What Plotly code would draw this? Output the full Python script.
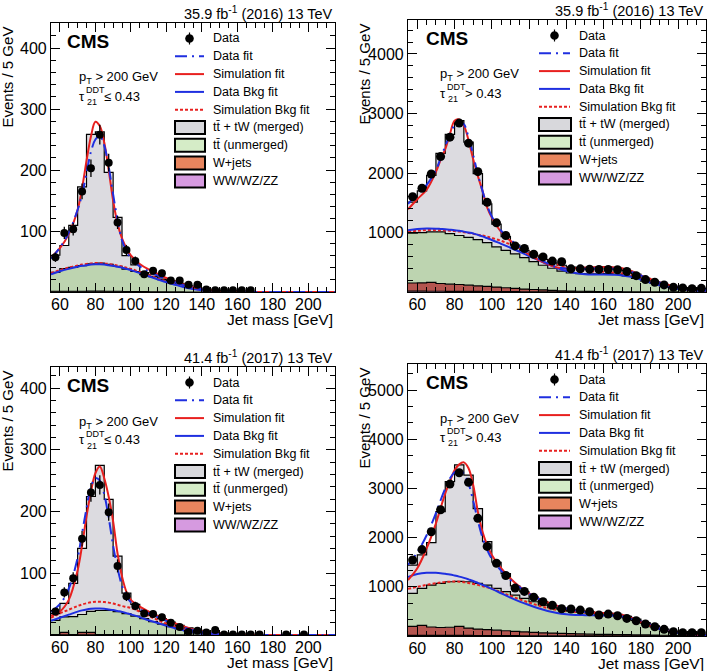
import plotly.graph_objects as go

W, H = 709, 671
FONT = "Liberation Sans, Arial, Helvetica, sans-serif"

# ---------------- shared binning ----------------
bin_edges = [55, 60, 65, 70, 75, 80, 85, 90, 95, 100, 105, 110, 115, 120, 125, 130,
             135, 140, 145, 150, 155, 160, 165, 170, 175, 180, 185, 190, 195, 200, 205, 210, 215]
bin_centers = [57.5, 62.5, 67.5, 72.5, 77.5, 82.5, 87.5, 92.5, 97.5, 102.5, 107.5, 112.5,
               117.5, 122.5, 127.5, 132.5, 137.5, 142.5, 147.5, 152.5, 157.5, 162.5, 167.5,
               172.5, 177.5, 182.5, 187.5, 192.5, 197.5, 202.5, 207.5, 212.5]
fit_x = [55, 60, 65, 70, 72.5, 75, 77.5, 80, 82.5, 85, 87.5, 90, 92.5, 95, 97.5, 100, 105, 110,
         115, 120, 125, 130, 135, 140, 145, 150, 155, 160, 165, 170, 175, 180, 185, 190, 195,
         200, 205, 210, 215]

# ---------------- panel 1: 2016, tau21 <= 0.43 ----------------
p1_data = [57, 97, 103, 165, 203, 258, 212, 114, 69, 51, 29, 35, 31, 19, 19, 12, 12,
           4, 3, 3, 3, 3, 3, None, None, None, None, None, None, None, None, None]
p1_vv = [0.3, 0.3, 0.3, 0.3, 0.4, 0.4, 0.3, 0.3, 0.2, 0.2, 0.2, 0.1, 0.1, 0.1, 0, 0,
         0, 0, 0, 0, 0, 0, 0, 0, 0, 0, 0, 0, 0, 0, 0, 0]
p1_wjets = [1, 1, 1, 1, 1, 1, 1, 1, 0.5, 0.5, 0.5, 0.3, 0.3, 0.2, 0.2, 0.1,
            0.1, 0, 0, 0, 0, 0, 0, 0, 0, 0, 0, 0, 0, 0, 0, 0]
p1_unmerged = [31, 37, 39, 42, 45, 46, 44, 41, 37, 33, 28, 25, 20, 16, 12, 8,
               5, 3, 1.5, 0.8, 0.5, 0.3, 0.2, 0.1, 0, 0, 0, 0, 0, 0, 0, 0]
p1_merged = [28, 38, 69, 129, 212, 215, 151, 80, 22, 11, 3, 3, 3, 2, 2, 2,
             2, 2, 1.5, 1.2, 1, 0.7, 0.5, 0.4, 0.3, 0.2, 0.1, 0.1, 0, 0, 0, 0]
p1_data_fit = [55, 73, 97, 135, 160, 195, 230, 250, 256, 240, 205, 160, 118, 85, 67, 55, 42, 34,
               27, 21, 16, 11, 7.5, 4.5, 2.5, 1.2, 0.6, 0.3, 0.1, 0, 0, 0, 0, 0, 0, 0, 0, 0, 0]
p1_sim_fit = [57, 72, 95, 135, 170, 215, 255, 279, 272, 245, 200, 150, 112, 88, 72, 60, 46, 37,
              30, 23, 17, 12, 8, 5, 3, 1.5, 0.8, 0.4, 0.2, 0.1, 0, 0, 0, 0, 0, 0, 0, 0, 0]
p1_data_bkg = [29, 34, 38, 41.5, 43, 44, 45, 45.5, 45.5, 45, 44, 43, 41.5, 40, 38, 36, 31, 26,
               21, 16, 12, 8, 5, 3, 1.5, 0.7, 0.3, 0.1, 0, 0, 0, 0, 0, 0, 0, 0, 0, 0, 0]
p1_sim_bkg = [31, 36, 40, 43.5, 45, 46, 47, 47.5, 47.5, 47, 46, 45, 43.5, 42, 40, 38, 33, 28,
              22.5, 17.5, 13, 9, 6, 3.5, 2, 1, 0.4, 0.1, 0, 0, 0, 0, 0, 0, 0, 0, 0, 0, 0]

# ---------------- panel 2: 2016, tau21 > 0.43 ----------------
p2_data = [1601, 1743, 1984, 2276, 2602, 2838, 2501, 2023, 1507, 1163, 950, 775, 731, 635, 590, 520,
           510, 390, 390, 385, 380, 380, 375, 345, 275, 210, 165, 120, 80, 70, 57, 62]
p2_vv = [15, 15, 14, 14, 13, 12, 11, 10, 9, 8, 7, 6, 5, 5, 4, 4,
         3, 3, 3, 2, 2, 2, 2, 1, 1, 1, 1, 1, 1, 0, 0, 0]
p2_wjets = [137, 140, 150, 130, 120, 115, 105, 95, 85, 75, 65, 55, 45, 38, 32, 25,
            18, 14, 11, 9, 7, 5, 4, 3, 2, 2, 1, 1, 1, 1, 1, 1]
p2_unmerged = [838, 845, 846, 866, 847, 823, 804, 775, 736, 677, 628, 579, 530, 467, 414, 371,
               329, 303, 296, 294, 296, 303, 294, 266, 227, 182, 143, 103, 68, 44, 29, 21]
p2_merged = [520, 700, 950, 1320, 1670, 1930, 1600, 1110, 650, 380, 230, 150, 120, 100, 100, 90,
             100, 100, 105, 105, 105, 95, 95, 90, 70, 45, 25, 20, 15, 15, 15, 13]
p2_data_fit = [1480, 1650, 1800, 2050, 2250, 2450, 2650, 2800, 2860, 2820, 2600, 2300, 1980, 1700,
               1450, 1270, 1030, 880, 760, 650, 560, 480, 420, 390, 385, 390, 395, 395, 390, 375,
               340, 280, 215, 160, 115, 85, 65, 55, 50]
p2_sim_fit = [1390, 1560, 1720, 2020, 2220, 2400, 2650, 2880, 2900, 2800, 2550, 2230, 1950, 1700,
              1420, 1250, 1010, 860, 740, 630, 540, 470, 415, 395, 400, 410, 418, 420, 415, 400,
              355, 280, 220, 165, 120, 85, 65, 55, 50]
p2_data_bkg = [1040, 1060, 1068, 1065, 1060, 1055, 1048, 1040, 1028, 1015, 1000, 985, 960, 935,
               905, 875, 810, 745, 675, 605, 535, 465, 405, 355, 320, 300, 295, 295, 290, 280,
               255, 210, 160, 115, 80, 55, 38, 28, 20]
p2_sim_bkg = [1010, 1030, 1040, 1040, 1038, 1035, 1030, 1025, 1015, 1005, 993, 980, 965, 950,
              930, 910, 860, 800, 740, 680, 610, 540, 470, 410, 375, 355, 345, 340, 330, 315,
              280, 225, 170, 120, 80, 55, 38, 28, 20]

# ---------------- panel 3: 2017, tau21 <= 0.43 ----------------
p3_data = [38, 69, 92, 156, 231, 243, 199, 112, 63, 47, 35, 34, 29, 20, 13, 5,
           7, 4, 8, 1, 1, 1, 1, 1, None, None, 1, None, 1, None, None, None]
p3_vv = [0.3, 0.3, 0.3, 0.3, 0.3, 0.3, 0.3, 0.3, 0.3, 0.3, 0.2, 0.2, 0.1, 0.1, 0.1, 0,
         0, 0, 0, 0, 0, 0, 0, 0, 0, 0, 0, 0, 0, 0, 0, 0]
p3_wjets = [0.5, 4, 0.5, 4, 4, 0.5, 0.5, 0.5, 0.5, 0.3, 0.3, 0.2, 0.2, 0.1, 0.1, 0,
            0, 0, 0, 0, 0, 0, 0, 0, 0, 0, 0, 0, 0, 0, 0, 0]
p3_unmerged = [23, 25, 29, 29, 34, 39, 39, 37, 34, 30, 26, 21.5, 17.5, 13.6, 9.6, 6.7,
               3.7, 2.3, 1.3, 0.8, 0.4, 0.2, 0.1, 0.1, 0, 0, 0, 0, 0, 0, 0, 0]
p3_merged = [11, 22, 54, 107, 186, 235, 180, 90, 33, 19, 12, 10, 9, 7, 6, 5,
             4.3, 3.7, 2.7, 2.2, 1.6, 1.3, 0.9, 0.7, 0.5, 0.4, 0.3, 0.2, 0.1, 0.1, 0, 0]
p3_data_fit = [38, 50, 75, 125, 165, 205, 240, 254, 250, 228, 190, 145, 108, 80, 63, 53, 42, 35,
               29, 23, 17, 12, 8, 5, 3, 1.5, 0.7, 0.3, 0.1, 0, 0, 0, 0, 0, 0, 0, 0, 0, 0]
p3_sim_fit = [31, 38, 57, 105, 145, 192, 232, 262, 273, 254, 224, 184, 132, 95, 70, 57, 46, 38,
              31, 25, 19, 14, 9, 6, 3.5, 2, 1, 0.5, 0.2, 0.1, 0, 0, 0, 0, 0, 0, 0, 0, 0]
p3_data_bkg = [23, 28, 33, 38, 40, 41.5, 42.5, 43, 43, 42.5, 41.5, 40.5, 39, 37.5, 35.5, 33.5,
               29, 24, 19.5, 15, 11, 7.5, 4.5, 2.5, 1.2, 0.5, 0.2, 0, 0, 0, 0, 0, 0, 0, 0, 0, 0, 0, 0]
p3_sim_bkg = [28, 35, 41, 47, 49.5, 51.5, 53, 54, 54, 53.5, 52.5, 51, 49, 47, 45.5, 44, 38, 31,
              24.5, 18.5, 13.5, 9, 5.5, 3, 1.5, 0.7, 0.3, 0.1, 0, 0, 0, 0, 0, 0, 0, 0, 0, 0, 0]

# ---------------- panel 4: 2017, tau21 > 0.43 ----------------
p4_data = [1545, 1758, 2120, 2568, 3089, 3320, 3124, 2392, 1822, 1480, 1230, 975, 908, 790, 698, 625,
           555, 549, 528, 494, 427, 447, 413, 359, 311, 244, 190, 136, 88, 68, 68, 68]
p4_vv = [15, 15, 14, 14, 14, 13, 12, 11, 10, 9, 8, 7, 6, 6, 5, 5,
         4, 4, 4, 3, 3, 3, 3, 2, 2, 2, 2, 1, 1, 1, 1, 1]
p4_wjets = [180, 200, 170, 160, 165, 185, 150, 130, 120, 110, 100, 90, 80, 70, 60, 55,
            50, 45, 40, 35, 32, 30, 28, 25, 22, 20, 18, 15, 12, 10, 8, 6]
p4_unmerged = [672, 753, 852, 896, 925, 912, 942, 929, 906, 849, 793, 736, 679, 621, 565, 515,
               487, 456, 441, 432, 420, 412, 389, 348, 296, 233, 168, 109, 72, 44, 29, 23]
p4_merged = [573, 682, 864, 1460, 2036, 2370, 2166, 1520, 884, 532, 369, 187, 135, 93, 70, 45,
             19, 20, 20, 20, 20, 15, 20, 25, 25, 20, 17, 15, 10, 10, 7, 5]
p4_data_fit = [1450, 1700, 2050, 2500, 2760, 3000, 3200, 3330, 3370, 3300, 3100, 2750, 2350, 2000,
               1750, 1570, 1330, 1140, 990, 860, 760, 680, 610, 560, 520, 490, 465, 450, 430, 400,
               350, 280, 210, 145, 95, 60, 38, 25, 16]
p4_sim_fit = [1140, 1380, 1780, 2290, 2600, 2900, 3140, 3370, 3490, 3530, 3410, 3070, 2530, 2120,
              1850, 1650, 1380, 1170, 1000, 867, 766, 685, 617, 563, 530, 500, 480, 470, 455, 430,
              370, 280, 210, 150, 105, 70, 45, 30, 18]
p4_data_bkg = [1200, 1260, 1285, 1285, 1278, 1265, 1250, 1230, 1208, 1182, 1152, 1120, 1082, 1042,
               1000, 960, 870, 780, 700, 630, 565, 510, 470, 445, 430, 425, 422, 420, 412, 395,
               360, 295, 230, 165, 110, 70, 40, 22, 12]
p4_sim_bkg = [960, 1000, 1040, 1075, 1090, 1100, 1105, 1108, 1105, 1095, 1080, 1060, 1040, 1015,
              990, 960, 890, 815, 745, 680, 620, 570, 530, 505, 490, 480, 470, 465, 450, 420,
              370, 300, 225, 160, 105, 65, 38, 22, 12]

# ---------------- text ----------------
legend_labels = ["Data", "Data fit", "Simulation fit", "Data Bkg fit", "Simulation Bkg fit",
                 "tt\u0304 + tW (merged)", "tt\u0304 (unmerged)", "W+jets", "WW/WZ/ZZ"]
lumi_labels = ["35.9 fb<sup>-1</sup> (2016) 13 TeV", "35.9 fb<sup>-1</sup> (2016) 13 TeV",
               "41.4 fb<sup>-1</sup> (2017) 13 TeV", "41.4 fb<sup>-1</sup> (2017) 13 TeV"]
cut_labels = ["\u2264 0.43", "> 0.43", "\u2264 0.43", "> 0.43"]

# ---------------- styles ----------------
C_MERGED, C_UNMERGED, C_WJETS, C_VV = "#dcdbe0", "#bdd4b0", "#b4554f", "#d99be3"
L_MERGED, L_UNMERGED, L_WJETS, L_VV = "#d8d8dc", "#d5ecc7", "#e8855e", "#d69ae0"
BLUE, RED = "#1f2fe0", "#e8201f"

panels = [
    dict(data=p1_data, vv=p1_vv, wj=p1_wjets, um=p1_unmerged, mg=p1_merged,
         dfit=p1_data_fit, sfit=p1_sim_fit, dbkg=p1_data_bkg, sbkg=p1_sim_bkg,
         px=(51, 335), py=(23, 292), ymax=441, ydt=100, ymn=20, ms=8),
    dict(data=p2_data, vv=p2_vv, wj=p2_wjets, um=p2_unmerged, mg=p2_merged,
         dfit=p2_data_fit, sfit=p2_sim_fit, dbkg=p2_data_bkg, sbkg=p2_sim_bkg,
         px=(408, 706), py=(20, 292), ymax=4570, ydt=1000, ymn=200, ms=9),
    dict(data=p3_data, vv=p3_vv, wj=p3_wjets, um=p3_unmerged, mg=p3_merged,
         dfit=p3_data_fit, sfit=p3_sim_fit, dbkg=p3_data_bkg, sbkg=p3_sim_bkg,
         px=(51, 335), py=(367, 635), ymax=434, ydt=100, ymn=20, ms=8),
    dict(data=p4_data, vv=p4_vv, wj=p4_wjets, um=p4_unmerged, mg=p4_merged,
         dfit=p4_data_fit, sfit=p4_sim_fit, dbkg=p4_data_bkg, sbkg=p4_sim_bkg,
         px=(408, 706), py=(364, 636), ymax=5530, ydt=1000, ymn=1000 / 3, ms=9),
]


def X(px):
    return px / W


def Y(py):
    return 1 - py / H


fig = go.Figure()
layout = dict(width=W, height=H, margin=dict(l=0, r=0, t=0, b=0), showlegend=False,
              paper_bgcolor="white", plot_bgcolor="white", font=dict(family=FONT, color="black"))
annotations, shapes = [], []

for i, p in enumerate(panels):
    k = i + 1
    xa = "x" if k == 1 else f"x{k}"
    ya = "y" if k == 1 else f"y{k}"
    # stacked histograms (bottom to top)
    for vals, col in [(p["vv"], C_VV), (p["wj"], C_WJETS), (p["um"], C_UNMERGED), (p["mg"], C_MERGED)]:
        fig.add_trace(go.Scatter(x=bin_edges, y=vals + [vals[-1]], mode="lines",
                                 line=dict(shape="hv", color="black", width=1.2),
                                 stackgroup=f"s{k}", fillcolor=col, xaxis=xa, yaxis=ya,
                                 hoverinfo="skip"))
    # fits
    fig.add_trace(go.Scatter(x=fit_x, y=p["sbkg"], mode="lines", xaxis=xa, yaxis=ya,
                             line=dict(shape="spline", color=RED, width=2, dash="3px,2px")))
    fig.add_trace(go.Scatter(x=fit_x, y=p["dbkg"], mode="lines", xaxis=xa, yaxis=ya,
                             line=dict(shape="spline", color=BLUE, width=2)))
    fig.add_trace(go.Scatter(x=fit_x, y=p["sfit"], mode="lines", xaxis=xa, yaxis=ya,
                             line=dict(shape="spline", color=RED, width=2)))
    fig.add_trace(go.Scatter(x=fit_x, y=p["dfit"], mode="lines", xaxis=xa, yaxis=ya,
                             line=dict(shape="spline", color=BLUE, width=2, dash="12px,5px,2px,5px")))
    # data
    fig.add_trace(go.Scatter(x=bin_centers, y=p["data"], mode="markers", xaxis=xa, yaxis=ya,
                             marker=dict(color="black", size=p["ms"]),
                             error_y=dict(type="sqrt", color="black", thickness=1.3, width=0)))

    x0, x1 = p["px"]
    yt, yb = p["py"]
    axkw = dict(showline=True, linecolor="black", linewidth=1.2, mirror="allticks",
                ticks="inside", ticklen=9, tickwidth=1, tickcolor="black", showgrid=False,
                zeroline=False, tickfont=dict(family=FONT, size=16, color="black"))
    layout["xaxis" if k == 1 else f"xaxis{k}"] = dict(
        domain=[X(x0), X(x1)], range=[55, 215], anchor=ya, tickmode="linear", tick0=0, dtick=20,
        ticklabelstandoff=-2,
        minor=dict(ticks="inside", ticklen=4.5, tickcolor="black", dtick=5, tick0=0), **axkw)
    layout["yaxis" if k == 1 else f"yaxis{k}"] = dict(
        domain=[Y(yb), Y(yt)], range=[0.001 * p["ydt"], p["ymax"]], anchor=xa, tickmode="linear",
        tick0=0, dtick=p["ydt"],
        minor=dict(ticks="inside", ticklen=4.5, tickcolor="black", dtick=p["ymn"], tick0=0), **axkw)

    # texts
    annotations.append(dict(text=lumi_labels[i], x=X(x1), y=Y(yt - 10), xref="paper", yref="paper",
                            xanchor="right", yanchor="middle", showarrow=False,
                            font=dict(size=14.5)))
    annotations.append(dict(text="Jet mass [GeV]", x=X(x1), y=Y(yb + 27.5), xref="paper", yref="paper",
                            xanchor="right", yanchor="middle", showarrow=False,
                            font=dict(size=15.5)))
    ytx = 7 if x0 < 100 else 364
    annotations.append(dict(text="Events / 5 GeV", x=X(ytx), y=Y(yt + 2), xref="paper", yref="paper",
                            xanchor="center", yanchor="top", textangle=-90, showarrow=False,
                            font=dict(size=15)))
    cmsx = x0 + 14 if x0 < 100 else x0 + 16
    annotations.append(dict(text="<b>CMS</b>", x=X(cmsx), y=Y(yt + 18.5), xref="paper", yref="paper",
                            xanchor="left", yanchor="middle", showarrow=False,
                            font=dict(size=19)))
    ptx = x0 + 26 if x0 < 100 else x0 + 30
    pty = yt + 55
    annotations.append(dict(text="p<sub>T</sub> > 200 GeV", x=X(ptx), y=Y(pty), xref="paper",
                            yref="paper", xanchor="left", yanchor="middle", showarrow=False,
                            font=dict(size=13)))
    tay = pty + 18
    annotations.append(dict(text="\u03c4", x=X(ptx), y=Y(tay), xref="paper", yref="paper",
                            xanchor="left", yanchor="middle", showarrow=False, font=dict(size=13)))
    annotations.append(dict(text="DDT", x=X(ptx + 7), y=Y(tay - 6), xref="paper", yref="paper",
                            xanchor="left", yanchor="middle", showarrow=False, font=dict(size=9)))
    annotations.append(dict(text="21", x=X(ptx + 7.5), y=Y(tay + 6), xref="paper", yref="paper",
                            xanchor="left", yanchor="middle", showarrow=False, font=dict(size=9)))
    annotations.append(dict(text=cut_labels[i], x=X(ptx + 25), y=Y(tay), xref="paper", yref="paper",
                            xanchor="left", yanchor="middle", showarrow=False, font=dict(size=13)))

    # legend (drawn manually)
    if x0 < 100:
        s0, s1, tx = x0 + 124, x0 + 153, x0 + 159.5
    else:
        s0, s1, tx = x0 + 131, x0 + 162, x0 + 169
    rows = [yt + 15.5 + 17.8 * r for r in range(9)]
    for r, lab in enumerate(legend_labels):
        annotations.append(dict(text=lab, x=X(tx), y=Y(rows[r]), xref="paper", yref="paper",
                                xanchor="left", yanchor="middle", showarrow=False,
                                font=dict(size=12.5)))
    sm = (s0 + s1) / 2
    shapes.append(dict(type="line", xref="paper", yref="paper", x0=X(sm), x1=X(sm),
                       y0=Y(rows[0] - 6), y1=Y(rows[0] + 6), line=dict(color="black", width=1.2)))
    shapes.append(dict(type="circle", xref="paper", yref="paper", x0=X(sm - 4.3), x1=X(sm + 4.3),
                       y0=Y(rows[0] + 4.3), y1=Y(rows[0] - 4.3), fillcolor="black",
                       line=dict(color="black", width=0)))
    for r, col, dash in [(1, BLUE, "12px,5px,2px,5px"), (2, RED, "solid"), (3, BLUE, "solid"),
                         (4, RED, "3px,2px")]:
        shapes.append(dict(type="line", xref="paper", yref="paper", x0=X(s0), x1=X(s1),
                           y0=Y(rows[r]), y1=Y(rows[r]), line=dict(color=col, width=2, dash=dash)))
    for r, col in [(5, L_MERGED), (6, L_UNMERGED), (7, L_WJETS), (8, L_VV)]:
        shapes.append(dict(type="rect", xref="paper", yref="paper", x0=X(s0), x1=X(s1 + 1),
                           y0=Y(rows[r] + 6.5), y1=Y(rows[r] - 6.5), fillcolor=col,
                           line=dict(color="black", width=2)))

layout["annotations"] = annotations
layout["shapes"] = shapes
fig.update_layout(**layout)
fig.write_html("out.html", config={"displayModeBar": False},
               post_script="document.body.style.margin='0';document.body.style.overflow='hidden';")
